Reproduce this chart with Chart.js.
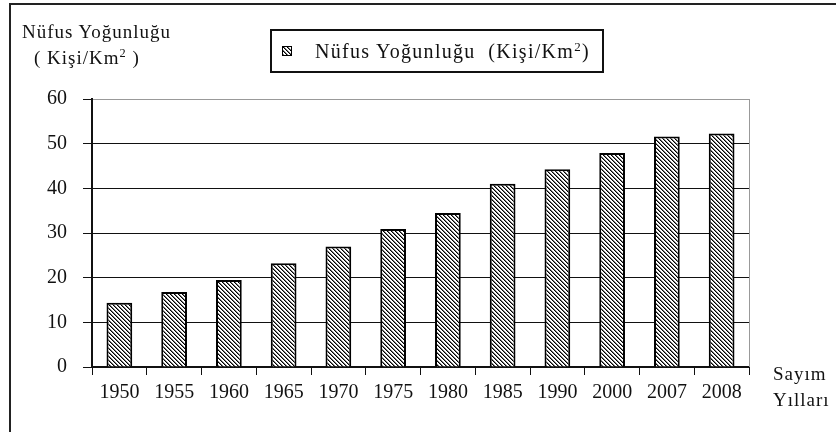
<!DOCTYPE html>
<html>
<head>
<meta charset="utf-8">
<script src="https://cdn.jsdelivr.net/npm/chart.js@4"></script>
<style>
  body { margin: 0; background: #fff; overflow: hidden; }
  #wrap { position: relative; width: 836px; height: 432px; font-family: "Liberation Serif", serif; color: #111; }
  #frame { position: absolute; left: 9px; top: 3px; width: 900px; height: 500px; border-top: 2px solid #222; border-left: 2px solid #222; }
  .txt { position: absolute; font-size: 19px; line-height: 19px; white-space: nowrap; letter-spacing: 1px; }
  sup { font-size: 0.65em; vertical-align: 0; position: relative; top: -0.55em; }
  #legend { position: absolute; left: 270px; top: 29px; width: 330px; height: 40px; border: 2px solid #111; }
  #swatch { position: absolute; left: 282px; top: 46px; }
  canvas#chart { position: absolute; left: 0; top: 0; }
</style>
</head>
<body>
<div id="wrap">
  <div id="frame"></div>
  <canvas id="chart" width="836" height="432"></canvas>
  <div class="txt" style="left:22px;top:22px;">Nüfus Yoğunluğu</div>
  <div class="txt" style="left:34px;top:48px;">( Kişi/Km<sup>2</sup> )</div>
  <div id="legend"></div>
  <canvas id="swatch" width="10" height="10"></canvas>
  <div class="txt" style="left:315px;top:42px;font-size:20px;letter-spacing:1.3px;">Nüfus Yoğunluğu&nbsp; (Kişi/Km<sup>2</sup>)</div>
  <div class="txt" style="left:773px;top:364px;">Sayım</div>
  <div class="txt" style="left:773px;top:390px;">Yılları</div>
</div>
<script>
  // values
  const years = ['1950', '1955', '1960', '1965', '1970', '1975', '1980', '1985', '1990', '2000', '2007', '2008'];
  const density = [14.4, 16.8, 19.5, 23.2, 27.0, 30.9, 34.5, 41.0, 44.3, 47.9, 51.6, 52.3];
  const yMin = 0, yMax = 60, yStep = 10;

  // diagonal hatching like the old excel fill
  function hatchCanvas() {
    const c = document.createElement('canvas');
    c.width = 4; c.height = 4;
    const g = c.getContext('2d');
    g.fillStyle = '#fff';
    g.fillRect(0, 0, 4, 4);
    for (let i = 0; i < 4; i++) {
      g.fillStyle = '#000';
      g.fillRect(i, i, 1, 1);
      g.fillStyle = '#777';
      g.fillRect((i + 1) % 4, i, 1, 1);
    }
    return c;
  }

  const sw = document.getElementById('swatch').getContext('2d');
  sw.fillStyle = sw.createPattern(hatchCanvas(), 'repeat');
  sw.fillRect(0, 0, 10, 10);
  sw.strokeStyle = '#000';
  sw.lineWidth = 1;
  sw.strokeRect(0.5, 0.5, 9, 9);

  const ctx = document.getElementById('chart').getContext('2d');
  const hatch = ctx.createPattern(hatchCanvas(), 'repeat');

  // gray border on the right of the plot area
  const plotBorder = {
    id: 'plotBorder',
    beforeDatasetsDraw(chart) {
      const a = chart.chartArea;
      const c = chart.ctx;
      c.save();
      c.strokeStyle = '#999';
      c.lineWidth = 1;
      c.beginPath();
      c.moveTo(Math.round(a.right) + 0.5, a.top);
      c.lineTo(Math.round(a.right) + 0.5, a.bottom);
      c.stroke();
      c.restore();
    }
  };

  new Chart(ctx, {
    type: 'bar',
    data: {
      labels: years,
      datasets: [{
        label: 'Nüfus Yoğunluğu (Kişi/Km²)',
        data: density,
        backgroundColor: hatch,
        borderColor: '#000',
        borderWidth: 2,
        categoryPercentage: 1,
        barPercentage: 0.47
      }]
    },
    options: {
      responsive: false,
      animation: false,
      layout: { padding: { left: 0, right: 87, top: 99, bottom: 0 } },
      plugins: {
        legend: { display: false },
        tooltip: { enabled: false }
      },
      scales: {
        x: {
          offset: true,
          grid: { display: true, drawOnChartArea: false, drawTicks: true, tickLength: 8, color: '#111', lineWidth: 1 },
          border: { display: true, color: '#111', width: 2 },
          ticks: { color: '#111', padding: 6, font: { family: 'Liberation Serif', size: 20 }, maxRotation: 0, autoSkip: false },
          afterFit(scale) { scale.height = 65; }
        },
        y: {
          min: yMin,
          max: yMax,
          ticks: { stepSize: yStep, color: '#111', padding: 16, font: { family: 'Liberation Serif', size: 20 } },
          grid: {
            color: c => (c.tick && c.tick.value === yMax ? '#999' : '#111'),
            tickColor: '#111',
            tickLength: 9,
            lineWidth: 1
          },
          border: { display: true, color: '#111', width: 2 },
          afterFit(scale) { scale.width = 92; }
        }
      }
    },
    plugins: [plotBorder]
  });
</script>
</body>
</html>
